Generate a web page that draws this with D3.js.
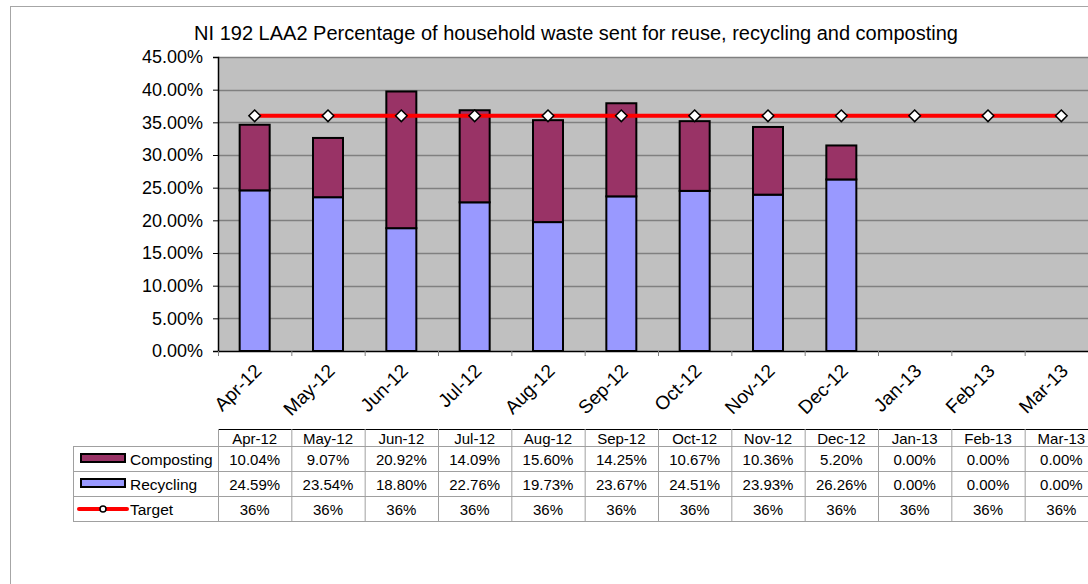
<!DOCTYPE html>
<html>
<head>
<meta charset="utf-8">
<script src="https://cdn.jsdelivr.net/npm/d3@7"></script>
<style>
  body { margin: 0; background: #fff; }
  svg { display: block; font-family: "Liberation Sans", Arial, sans-serif; }
</style>
</head>
<body>
<svg id="chart" width="1088" height="584"></svg>
<script>
// values
const months = ['Apr-12','May-12','Jun-12','Jul-12','Aug-12','Sep-12','Oct-12','Nov-12','Dec-12','Jan-13','Feb-13','Mar-13'];
const composting = [10.04, 9.07, 20.92, 14.09, 15.60, 14.25, 10.67, 10.36, 5.20, 0, 0, 0];
const recycling  = [24.59, 23.54, 18.80, 22.76, 19.73, 23.67, 24.51, 23.93, 26.26, 0, 0, 0];
const target     = [36, 36, 36, 36, 36, 36, 36, 36, 36, 36, 36, 36];
const yTicks = [0, 5, 10, 15, 20, 25, 30, 35, 40, 45];

const title = 'NI 192 LAA2 Percentage of household waste sent for reuse, recycling and composting';
const colComp = '#993366', colRec = '#9999ff', colTarget = '#ff0000';

const svg = d3.select('#chart');
const plotL = 218, plotR = 1098, plotT = 57, plotB = 351;
const barW = 30;

// outer chart frame (runs off the right / bottom edge)
svg.append('rect').attr('x', 10.5).attr('y', 6.5).attr('width', 1100).attr('height', 600)
  .attr('fill', 'none').attr('stroke', '#a6a6a6');

svg.append('text').attr('x', 576).attr('y', 40).attr('text-anchor', 'middle')
  .attr('font-size', 20).attr('fill', '#000').text(title);

const x = d3.scaleBand().domain(months).range([plotL, plotR]);
const y = d3.scaleLinear().domain([0, 45]).range([plotB, plotT]);
const cx = m => x(m) + x.bandwidth() / 2;

// plot area
svg.append('rect').attr('x', plotL).attr('y', plotT).attr('width', plotR - plotL).attr('height', plotB - plotT)
  .attr('fill', '#c0c0c0');
svg.append('g').selectAll('line').data(yTicks.slice(1)).join('line')
  .attr('x1', plotL).attr('x2', plotR)
  .attr('y1', d => Math.round(y(d)) + 0.5).attr('y2', d => Math.round(y(d)) + 0.5)
  .attr('stroke', '#808080').attr('stroke-width', 1.5);

// y axis
const yAxis = svg.append('g').attr('transform', `translate(${plotL},0)`)
  .call(d3.axisLeft(y).tickValues(yTicks).tickFormat(d => d.toFixed(2) + '%').tickSize(5).tickPadding(10));
yAxis.select('.domain').attr('stroke', '#000').attr('stroke-width', 1.5);
yAxis.selectAll('.tick line').attr('stroke', '#000');
yAxis.selectAll('text').attr('font-size', 18).attr('fill', '#000')
  .attr('font-family', '"Liberation Sans", Arial, sans-serif');

// stacked bars
const rows = months.map((m, i) => ({ m, rec: recycling[i], comp: composting[i] }));
const barG = svg.append('g');
rows.filter(d => d.rec + d.comp > 0).forEach(d => {
  barG.append('rect').attr('x', cx(d.m) - barW / 2).attr('y', y(d.rec))
    .attr('width', barW).attr('height', y(0) - y(d.rec))
    .attr('fill', colRec).attr('stroke', '#000').attr('stroke-width', 2);
  barG.append('rect').attr('x', cx(d.m) - barW / 2).attr('y', y(d.rec + d.comp))
    .attr('width', barW).attr('height', y(d.rec) - y(d.rec + d.comp))
    .attr('fill', colComp).attr('stroke', '#000').attr('stroke-width', 2);
});

// x axis
svg.append('line').attr('x1', plotL).attr('x2', plotR).attr('y1', plotB + 0.5).attr('y2', plotB + 0.5)
  .attr('stroke', '#000').attr('stroke-width', 1.5);
svg.append('g').selectAll('line').data(months).join('line')
  .attr('x1', d => x(d) + 0.5).attr('x2', d => x(d) + 0.5)
  .attr('y1', plotB).attr('y2', plotB + 5).attr('stroke', '#808080');
svg.append('g').selectAll('text').data(months).join('text')
  .attr('transform', d => `translate(${cx(d) + 8},${plotB + 21}) rotate(-45)`)
  .attr('text-anchor', 'end').attr('font-size', 19).attr('fill', '#000')
  .text(d => d);

// target line
const line = d3.line().x((d, i) => cx(months[i])).y(d => y(d));
svg.append('path').datum(target).attr('d', line)
  .attr('fill', 'none').attr('stroke', colTarget).attr('stroke-width', 4);
const diamond = d3.symbol().type(d3.symbolDiamond2).size(85);
svg.append('g').selectAll('path').data(target).join('path')
  .attr('transform', (d, i) => `translate(${cx(months[i])},${y(d)})`)
  .attr('d', diamond).attr('fill', '#fff').attr('stroke', '#000').attr('stroke-width', 1.5);

// data table
const tHead = 429, rowTops = [446, 471, 496], rowH = 25, legL = 73;
const tbl = svg.append('g');
const gridCol = '#a0a0a0';
tbl.append('line').attr('x1', plotL).attr('x2', plotR).attr('y1', tHead + 0.5).attr('y2', tHead + 0.5)
  .attr('stroke', '#000');
[...rowTops, rowTops[2] + rowH].forEach(ty => {
  tbl.append('line').attr('x1', legL).attr('x2', plotR).attr('y1', ty + 0.5).attr('y2', ty + 0.5)
    .attr('stroke', gridCol);
});
tbl.append('line').attr('x1', legL + 0.5).attr('x2', legL + 0.5).attr('y1', rowTops[0]).attr('y2', rowTops[2] + rowH)
  .attr('stroke', gridCol);
tbl.selectAll('.vl').data(months).join('line')
  .attr('x1', d => x(d) + 0.5).attr('x2', d => x(d) + 0.5)
  .attr('y1', tHead).attr('y2', rowTops[2] + rowH).attr('stroke', gridCol);

tbl.selectAll('.hd').data(months).join('text')
  .attr('x', d => cx(d)).attr('y', tHead + 15).attr('text-anchor', 'middle')
  .attr('font-size', 15).text(d => d);

const tableRows = [
  { name: 'Composting', vals: composting.map(v => v.toFixed(2) + '%') },
  { name: 'Recycling', vals: recycling.map(v => v.toFixed(2) + '%') },
  { name: 'Target', vals: target.map(v => v + '%') }
];
tableRows.forEach((r, ri) => {
  const base = rowTops[ri] + 18.5;
  tbl.append('g').selectAll('text').data(r.vals).join('text')
    .attr('x', (d, i) => cx(months[i])).attr('y', base).attr('text-anchor', 'middle')
    .attr('font-size', 15).text(d => d);
  tbl.append('text').attr('x', 130).attr('y', base).attr('font-size', 15.5).text(r.name);
});

// legend keys inside the table
const keyY = [454, 479];
[colComp, colRec].forEach((c, i) => {
  tbl.append('rect').attr('x', 81).attr('y', keyY[i]).attr('width', 44).attr('height', 8)
    .attr('fill', c).attr('stroke', '#000').attr('stroke-width', 2);
});
tbl.append('line').attr('x1', 79).attr('x2', 127).attr('y1', 509).attr('y2', 509)
  .attr('stroke', colTarget).attr('stroke-width', 4).attr('stroke-linecap', 'round');
tbl.append('path').attr('transform', 'translate(103,509)')
  .attr('d', d3.symbol().type(d3.symbolCircle).size(28))
  .attr('fill', '#fff').attr('stroke', '#000').attr('stroke-width', 1.5);
</script>
</body>
</html>
